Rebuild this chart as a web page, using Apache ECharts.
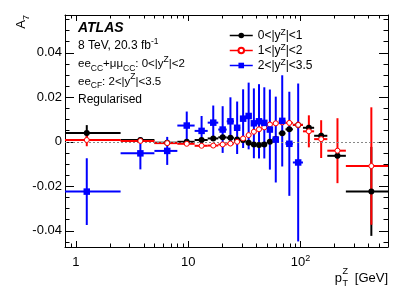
<!DOCTYPE html>
<html><head><meta charset="utf-8">
<script src="https://cdn.jsdelivr.net/npm/echarts@6/dist/echarts.min.js"></script>
<style>html,body{margin:0;padding:0;background:#fff}#c{width:409px;height:294px}</style>
</head><body><div id="c"></div>
<script>
// ---- data (pT^Z bins in GeV, A7 values) ----
const binLow    = [0, 2.5, 5, 8, 11.4, 14.9, 18.5, 22, 25.5, 29, 32.6, 36.4, 40.4, 44.9, 50.2, 56.4, 63.9, 73.4, 85.4, 105, 132, 173, 253];
const binHigh   = [2.5, 5, 8, 11.4, 14.9, 18.5, 22, 25.5, 29, 32.6, 36.4, 40.4, 44.9, 50.2, 56.4, 63.9, 73.4, 85.4, 105, 132, 173, 253, 600];
const binCenter = [1.25, 3.75, 6.5, 9.7, 13.15, 16.7, 20.25, 23.75, 27.25, 30.8, 34.5, 38.4, 42.65, 47.55, 53.3, 60.15, 68.65, 79.4, 95.2, 118.5, 152.5, 213, 426.5];

// 0<|y^Z|<1
const a7Central = [0.0040, 0.0008, -0.0004, 0.0000, 0.0008, 0.0015, 0.0020, 0.0018, 0.0010, 0.0008, -0.0004, -0.0012, -0.0015, -0.0012, 0.0000, 0.0012, 0.0038, 0.0056, 0.0076, 0.0063, 0.0027, -0.0063, -0.0223];
const errCentral = [0.0035, 0.0010, 0.0008, 0.0008, 0.0008, 0.0008, 0.0008, 0.0008, 0.0008, 0.0008, 0.0008, 0.0008, 0.0008, 0.0008, 0.0008, 0.0008, 0.0009, 0.0010, 0.0010, 0.0015, 0.0015, 0.0012, 0.0200];
// 1<|y^Z|<2
const a7Mid = [0.0008, 0.0004, -0.0006, -0.0009, -0.0018, -0.0017, -0.0012, -0.0008, 0.0000, 0.0015, 0.0030, 0.0045, 0.0056, 0.0065, 0.0078, 0.0083, 0.0087, 0.0085, 0.0076, 0.0047, 0.0012, -0.0040, -0.0109];
const errMid = [0.0028, 0.0012, 0.0010, 0.0010, 0.0010, 0.0010, 0.0010, 0.0010, 0.0010, 0.0010, 0.0010, 0.0010, 0.0010, 0.0010, 0.0010, 0.0010, 0.0012, 0.0013, 0.0015, 0.0072, 0.0085, 0.0146, 0.0264];
// 2<|y^Z|<3.5
const a7Forward = [-0.0224, -0.0052, -0.0041, 0.0073, 0.0049, 0.0086, 0.0055, 0.0092, 0.0063, 0.0104, 0.0116, 0.0083, 0.0092, 0.0085, 0.0055, 0.0010, 0.0094, -0.0009, -0.0093];
const errForward = [0.0150, 0.0072, 0.0063, 0.0063, 0.0067, 0.0077, 0.0105, 0.0108, 0.0118, 0.0132, 0.0150, 0.0157, 0.0167, 0.0160, 0.0180, 0.0193, 0.0205, 0.0234, 0.0355];

const legendNames = ['0<|yZ|<1', '1<|yZ|<2', '2<|yZ|<3.5'];
const xMajorLabels = [1, 10, 100];
const xMinorTicks = [0.9, 2, 3, 4, 5, 6, 7, 8, 9, 20, 30, 40, 50, 60, 70, 80, 90, 200, 300, 400, 500];

// ---- chart ----
const X_MIN = 0.8, X_MAX = 600, Y_MIN = -0.0473, Y_MAX = 0.057;
const FONT = '"Liberation Sans", Arial, Helvetica, sans-serif';

function errData(vals, errs) {
  return vals.map((v, i) => [binCenter[i], v, errs[i], binLow[i], binHigh[i]]);
}
function errRender(color) {
  return function (params, api) {
    const xc = api.value(0), y = api.value(1), e = api.value(2);
    const lo = Math.max(api.value(3), X_MIN), hi = Math.min(api.value(4), X_MAX);
    const pLo = api.coord([lo, y]), pHi = api.coord([hi, y]);
    const pTop = api.coord([xc, Math.min(y + e, Y_MAX)]);
    const pBot = api.coord([xc, Math.max(y - e, Y_MIN)]);
    return {
      type: 'group', children: [
        { type: 'line', shape: { x1: pLo[0], y1: pLo[1], x2: pHi[0], y2: pHi[1] }, style: { stroke: color, lineWidth: 2 } },
        { type: 'line', shape: { x1: pTop[0], y1: pTop[1], x2: pBot[0], y2: pBot[1] }, style: { stroke: color, lineWidth: 2 } }
      ]
    };
  };
}
function markerSeries(name, vals, color, symbol, size, z, hollow) {
  return {
    type: 'line', name: name, color: color,
    data: vals.map((v, i) => [binCenter[i], v]),
    symbol: symbol, symbolSize: size, showSymbol: true, showAllSymbol: true,
    lineStyle: { width: 0, color: color },
    itemStyle: hollow ? { color: '#fff', borderColor: color, borderWidth: 1 } : { color: color, borderWidth: 0 },
    z: z, silent: true, animation: false
  };
}

const supRich = { fontSize: 8.5, fontFamily: FONT, color: '#000', verticalAlign: 'top', lineHeight: 9 };
const subRich = { fontSize: 8.5, fontFamily: FONT, color: '#000', verticalAlign: 'bottom', lineHeight: 9 };

const chart = echarts.init(document.getElementById('c'), null, { renderer: 'canvas' });
const axisCommon = { lineStyle: { color: '#000', width: 1 } };

chart.setOption({
  animation: false,
  backgroundColor: '#fff',
  grid: { left: 65, right: 21, top: 15, bottom: 47, outerBoundsMode: 'none', containLabel: false },
  xAxis: [
    {
      type: 'log', logBase: 10, min: X_MIN, max: X_MAX, position: 'bottom',
      axisLine: { show: true, onZero: false, ...axisCommon },
      axisTick: { show: true, inside: true, length: 6, lineStyle: { color: '#000' } },
      minorTick: { show: false }, splitLine: { show: false },
      axisLabel: {
        margin: 7, fontSize: 13, fontFamily: FONT, color: '#000', lineHeight: 17,
        formatter: v => {
          if (Math.abs(v - xMajorLabels[0]) < 1e-6) return '1';
          if (Math.abs(v - xMajorLabels[1]) < 1e-5) return '10';
          if (Math.abs(v - xMajorLabels[2]) < 1e-4) return '10{sup|2}';
          return '';
        },
        rich: { sup: { fontSize: 9, fontFamily: FONT, color: '#000', verticalAlign: 'top', lineHeight: 9 } }
      }
    },
    {
      type: 'log', logBase: 10, min: X_MIN, max: X_MAX, position: 'top',
      axisLine: { show: true, onZero: false, ...axisCommon },
      axisTick: { show: true, inside: true, length: 6, lineStyle: { color: '#000' } },
      axisLabel: { show: false }, splitLine: { show: false }
    }
  ],
  yAxis: [
    {
      type: 'value', min: Y_MIN, max: Y_MAX, splitNumber: 5, position: 'left',
      axisLine: { show: true, onZero: false, ...axisCommon },
      axisTick: { show: true, inside: true, length: 9, lineStyle: { color: '#000' } },
      minorTick: { show: true, splitNumber: 4, length: 4.5, lineStyle: { color: '#000' } },
      splitLine: { show: false },
      axisLabel: {
        margin: 3, fontSize: 13, fontFamily: FONT, color: '#000',
        formatter: v => {
          const r = Math.round(v * 100) / 100;
          if (Math.abs(v - r) > 1e-9) return '';
          return r === 0 ? '0' : r.toFixed(2);
        }
      }
    },
    {
      type: 'value', min: Y_MIN, max: Y_MAX, splitNumber: 5, position: 'right',
      axisLine: { show: true, onZero: false, ...axisCommon },
      axisTick: { show: true, inside: true, length: 9, lineStyle: { color: '#000' } },
      minorTick: { show: true, splitNumber: 4, length: 4.5, lineStyle: { color: '#000' } },
      splitLine: { show: false }, axisLabel: { show: false }
    }
  ],
  legend: {
    data: legendNames, orient: 'vertical', left: 229, top: 28,
    itemWidth: 23, itemHeight: 7, itemGap: 0, padding: 0,
    selectedMode: false,
    lineStyle: { width: 1.5, opacity: 1 },
    formatter: name => name.replace('yZ', 'y{sup|Z}'),
    textStyle: { fontSize: 12, fontFamily: FONT, color: '#000', lineHeight: 15, rich: { sup: supRich } }
  },
  graphic: [
    { type: 'text', x: 78, y: 27.8, style: { text: 'ATLAS', font: 'italic bold 14px ' + FONT, fill: '#000', verticalAlign: 'middle' } },
    { type: 'text', x: 78, y: 46, style: { text: '8 TeV, 20.3 fb{sup|-1}', fontSize: 12, fontFamily: FONT, fill: '#000', verticalAlign: 'middle', lineHeight: 18, rich: { sup: supRich } } },
    { type: 'text', x: 78, y: 64.3, style: { text: 'ee{sub|CC}+μμ{sub|CC}: 0<|y{sup|Z}|<2', fontSize: 11.5, fontFamily: FONT, fill: '#000', verticalAlign: 'middle', lineHeight: 18, rich: { sup: supRich, sub: subRich } } },
    { type: 'text', x: 78, y: 81.5, style: { text: 'ee{sub|CF}: 2<|y{sup|Z}|<3.5', fontSize: 11.5, fontFamily: FONT, fill: '#000', verticalAlign: 'middle', lineHeight: 18, rich: { sup: supRich, sub: subRich } } },
    { type: 'text', x: 78, y: 100, style: { text: 'Regularised', fontSize: 12, fontFamily: FONT, fill: '#000', verticalAlign: 'middle', lineHeight: 18 } },
    { type: 'text', x: 21, y: 15, rotation: Math.PI / 2, style: { text: 'A{sub|7}', fontSize: 13, fontFamily: FONT, fill: '#000', align: 'right', verticalAlign: 'middle', lineHeight: 20, rich: { sub: { fontSize: 9, fontFamily: FONT, fill: '#000', verticalAlign: 'bottom', lineHeight: 9 } } } },
    { type: 'text', x: 342, y: 278, style: { text: 'p', fontSize: 13, fontFamily: FONT, fill: '#000', align: 'right', verticalAlign: 'middle' } },
    { type: 'text', x: 342.5, y: 271.5, style: { text: 'Z', fontSize: 9, fontFamily: FONT, fill: '#000', align: 'left', verticalAlign: 'middle' } },
    { type: 'text', x: 342.5, y: 283.5, style: { text: 'T', fontSize: 9, fontFamily: FONT, fill: '#000', align: 'left', verticalAlign: 'middle' } },
    { type: 'text', x: 388, y: 278, style: { text: '[GeV]', fontSize: 13, fontFamily: FONT, fill: '#000', align: 'right', verticalAlign: 'middle' } }
  ],
  series: [
    {
      type: 'custom', name: 'minorTicks', data: xMinorTicks.map(v => [v, 0]), encode: { x: 0, y: 1 }, z: 1, silent: true,
      renderItem: (params, api) => {
        const v = api.value(0);
        const b = api.coord([v, Y_MIN]), t = api.coord([v, Y_MAX]);
        const x = Math.round(b[0]) + 0.5;
        return {
          type: 'group', children: [
            { type: 'line', shape: { x1: x, y1: b[1], x2: x, y2: b[1] - 3.5 }, style: { stroke: '#000', lineWidth: 1 } },
            { type: 'line', shape: { x1: x, y1: t[1], x2: x, y2: t[1] + 3.5 }, style: { stroke: '#000', lineWidth: 1 } }
          ]
        };
      },
      markLine: {
        silent: true, symbol: 'none', label: { show: false },
        lineStyle: { color: '#888', type: [2, 2], width: 1 },
        data: [{ yAxis: 0 }]
      }
    },
    { type: 'custom', name: 'barsF', data: errData(a7Forward, errForward), encode: { x: 0, y: 1 }, renderItem: errRender('#0000ff'), z: 2, silent: true },
    { type: 'custom', name: 'barsC', data: errData(a7Central, errCentral), encode: { x: 0, y: 1 }, renderItem: errRender('#000000'), z: 3, silent: true },
    { type: 'custom', name: 'barsM', data: errData(a7Mid, errMid), encode: { x: 0, y: 1 }, renderItem: errRender('#ff0000'), z: 4, silent: true },
    markerSeries(legendNames[0], a7Central, '#000000', 'circle', 6, 5, false),
    markerSeries(legendNames[1], a7Mid, '#ff0000', 'circle', 5, 6, true),
    markerSeries(legendNames[2], a7Forward, '#0000ff', 'rect', 6.5, 7, false)
  ]
});
</script>
</body></html>
